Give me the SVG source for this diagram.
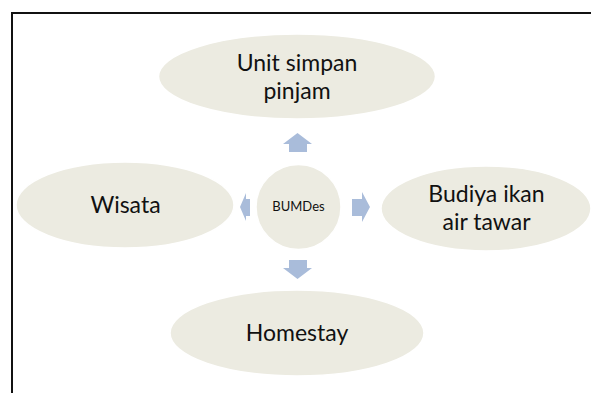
<svg xmlns="http://www.w3.org/2000/svg" width="591" height="393" viewBox="0 0 591 393">
<style>
.node ellipse{fill:#ecebe1;stroke:#ffffff;stroke-width:1.5}
.lbl{font-family:Lato,"Open Sans","DejaVu Sans",sans-serif;font-size:23px;fill:#111;text-anchor:middle}
.small{font-size:13px}
.arr{fill:#a9bcda}
</style>
<rect x="0" y="0" width="591" height="393" fill="#ffffff"/>
<rect x="12" y="13" width="620" height="420" fill="none" stroke="#111" stroke-width="2"/>
<g id="connectors">
<path class="arr" d="M283,144 L297.5,133 L312,144 L307,144 L307,152 L289,152 L289,144 Z"/>
<path class="arr" d="M289,260 L307,260 L307,268 L312,268 L297.5,279 L283,268 L289,268 Z"/>
<path class="arr" d="M352,199 L362,199 L362,192 L370,207 L362,222 L362,216 L352,216 Z"/>
<path class="arr" d="M250,199 L246,199 L246,193 L240,207 L246,221 L246,216 L250,216 Z"/>
</g>
<g id="node-top" class="node">
<ellipse cx="297" cy="76.5" rx="138.5" ry="42.5"/>
<text class="lbl" x="297" y="70.5">Unit simpan</text>
<text class="lbl" x="297" y="98.5">pinjam</text>
</g>
<g id="node-left" class="node">
<ellipse cx="125" cy="205" rx="109" ry="43"/>
<text class="lbl" x="125.5" y="213">Wisata</text>
</g>
<g id="node-right" class="node">
<ellipse cx="486" cy="208.5" rx="105" ry="42.5"/>
<text class="lbl" x="486.5" y="201.5">Budiya ikan</text>
<text class="lbl" x="486.5" y="229.5">air tawar</text>
</g>
<g id="node-bottom" class="node">
<ellipse cx="297" cy="333" rx="127" ry="43"/>
<text class="lbl" x="297" y="341">Homestay</text>
</g>
<g id="node-center" class="node">
<ellipse cx="298.5" cy="207" rx="42.5" ry="42.5"/>
<text class="lbl small" x="298.5" y="211">BUMDes</text>
</g>
</svg>
